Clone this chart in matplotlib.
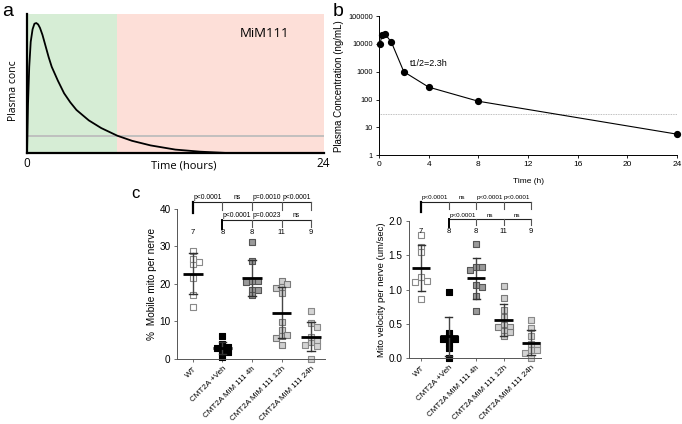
import numpy as np
import matplotlib
matplotlib.use("Agg")
import matplotlib.pyplot as plt
from matplotlib.ticker import NullFormatter, LogLocator

plt.rcParams['font.family'] = ['Liberation Sans', 'DejaVu Sans']

# ---------------- data ----------------
# panel a: schematic PK curve, y as fraction of axis height
a_time = [0, 0.08, 0.18, 0.3, 0.45, 0.6, 0.75, 0.9, 1.05, 1.25, 1.5, 1.75, 2.0, 2.5,
          3.0, 3.5, 4.0, 5.0, 6.0, 7.3, 8.5, 10, 12, 14, 16.3]
a_conc = [0, 0.35, 0.62, 0.80, 0.89, 0.93, 0.935, 0.925, 0.90, 0.85, 0.77, 0.69, 0.62, 0.52,
          0.43, 0.365, 0.31, 0.235, 0.18, 0.125, 0.088, 0.055, 0.025, 0.01, 0.0]
a_threshold = 0.12
a_green_end = 7.3
a_xticks = [0, 24]

# panel b: measured PK
b_time = [0.083, 0.25, 0.5, 1, 2, 4, 8, 24]
b_conc = [10000, 21500, 22500, 11500, 1000, 280, 87, 5.7]
b_threshold = 30
b_xticks = [0, 4, 8, 12, 16, 20, 24]
b_yticks = [1, 10, 100, 1000, 10000, 100000]
b_yticklabels = ['1', '10', '100', '1000', '10000', '100000']

# panel c
groups = ['WT', 'CMT2A +Veh', 'CMT2A MiM 111 4h', 'CMT2A MiM 111 12h', 'CMT2A MiM 111 24h']
n_labels = ['7', '8', '8', '11', '9']

mobile_wt = [28.7, 25.8, 25.4, 26.7, 21.5, 17.1, 13.8]
mobile_veh = [6.1, 4.0, 3.1, 2.9, 2.9, 2.0, 1.8, 0.5]
mobile_4h = [31.2, 26.1, 20.7, 20.5, 20.7, 18.4, 18.3, 17.0]
mobile_12h = [20.9, 19.1, 20.0, 19.0, 17.6, 9.8, 7.6, 6.2, 5.6, 6.5, 3.6]
mobile_24h = [12.9, 9.6, 8.6, 4.7, 3.8, 4.5, 5.8, 3.5, 0.0]

vel_wt = [1.79, 1.62, 1.55, 1.13, 1.18, 1.11, 0.86]
vel_veh = [0.97, 0.37, 0.28, 0.30, 0.22, 0.27, 0.14, 0.0]
vel_4h = [1.66, 1.33, 1.33, 1.29, 1.04, 1.07, 0.91, 0.68]
vel_12h = [1.05, 0.88, 0.70, 0.60, 0.48, 0.45, 0.41, 0.40, 0.38, 0.32, 0.45]
vel_24h = [0.56, 0.44, 0.32, 0.21, 0.19, 0.11, 0.11, 0.07, 0.0]

mobile_row1 = ['p<0.0001', 'ns', 'p=0.0010', 'p<0.0001']
mobile_row2 = ['p<0.0001', 'p=0.0023', 'ns']
vel_row1 = ['p<0.0001', 'ns', 'p<0.0001', 'p<0.0001']
vel_row2 = ['p<0.0001', 'ns', 'ns']

# styles
face_cols = ['white', 'black', '#9a9a9a', '#cfcfcf', '#d4d4d4']
edge_cols = ['#8a8a8a', 'black', '#555555', '#7a7a7a', '#8a8a8a']

fig = plt.figure(figsize=(6.82, 4.24), dpi=100)

# ---------------- panel a ----------------
axa = fig.add_axes([0.0396, 0.639, 0.435, 0.328])
axa.axvspan(0, a_green_end, color='#d6edd5', lw=0, zorder=0)
axa.axvspan(a_green_end, 24, color='#fddfd8', lw=0, zorder=0)
axa.axhline(a_threshold, color='#bdbdbd', lw=1.3, zorder=1)
axa.plot(a_time, a_conc, color='black', lw=1.3, zorder=2)
axa.set_xlim(0, 24)
axa.set_ylim(0, 1)
for s in ['top', 'right']:
    axa.spines[s].set_visible(False)
for s in ['left', 'bottom']:
    axa.spines[s].set_linewidth(1.6)
axa.set_xticks(a_xticks)
axa.set_xticklabels([str(v) for v in a_xticks], fontsize=8.5, family=['Open Sans', 'DejaVu Sans'])
axa.tick_params(axis='x', length=0, pad=3)
axa.set_yticks([])
axa.text(0.53, -0.095, 'Time (hours)', transform=axa.transAxes, ha='center', va='center',
         fontsize=8, family=['Open Sans', 'DejaVu Sans'])
axa.text(-0.045, 0.45, 'Plasma conc', transform=axa.transAxes, ha='center', va='center',
         rotation=90, fontsize=7.5, family=['Open Sans', 'DejaVu Sans'])
axa.text(19.2, 0.86, 'MiM111', ha='center', va='center', fontsize=9.5,
         family=['Open Sans', 'DejaVu Sans'])

# ---------------- panel b ----------------
axb = fig.add_axes([0.5557, 0.634, 0.437, 0.328])
axb.set_yscale('log')
axb.axhline(b_threshold, color='#aaaaaa', lw=0.6, ls=(0, (1, 1)), zorder=1)
axb.plot(b_time, b_conc, color='black', lw=0.8, marker='o', ms=4.2, clip_on=False, zorder=3)
axb.set_xlim(0, 24)
axb.set_ylim(1, 100000)
for s in ['top', 'right']:
    axb.spines[s].set_visible(False)
for s in ['left', 'bottom']:
    axb.spines[s].set_linewidth(0.7)
axb.set_xticks(b_xticks)
axb.set_xticklabels([str(v) for v in b_xticks], fontsize=6)
axb.set_yticks(b_yticks)
axb.set_yticklabels(b_yticklabels, fontsize=5.3)
axb.yaxis.set_minor_locator(LogLocator(base=10, subs=np.arange(2, 10)))
axb.yaxis.set_minor_formatter(NullFormatter())
axb.tick_params(axis='both', which='major', length=2.5, width=0.6, pad=2)
axb.tick_params(axis='y', which='minor', length=1.2, width=0.4)
axb.set_xlabel('Time (h)', fontsize=6, labelpad=7)
axb.set_ylabel('Plasma Concentration (ng/mL)', fontsize=7, labelpad=3)
axb.text(2.5, 2000, 't1/2=2.3h', fontsize=6.5, ha='left', va='center')

# ---------------- panel c helpers ----------------
def swarm_offsets(vals, dx, dy):
    placed = []
    offs = [0.0] * len(vals)
    order = sorted(range(len(vals)), key=lambda i: -vals[i])
    cand = [0, 1, -1, 0.5, -0.5, 1.5, -1.5]
    for i in order:
        v = vals[i]
        chosen = 0.0
        for k in cand:
            x = k * dx
            ok = all(not (abs(px - x) < dx * 0.9 and abs(pv - v) < dy) for px, pv in placed)
            if ok:
                chosen = x
                break
        offs[i] = chosen
        placed.append((chosen, v))
    return offs


def dot_panel(ax, data, dx, dy, ms):
    for gi, vals in enumerate(data):
        offs = swarm_offsets(vals, dx, dy)
        xs = [gi + o for o in offs]
        ax.scatter(xs, vals, marker='s', s=ms, facecolor=face_cols[gi], edgecolor=edge_cols[gi],
                   linewidths=0.8, zorder=2, clip_on=False)
        m = np.mean(vals)
        sd = np.std(vals, ddof=1)
        ax.plot([gi, gi], [m - sd, m + sd], color='#454545', lw=1.0, zorder=3)
        ax.plot([gi - 0.13, gi + 0.13], [m + sd, m + sd], color='#303030', lw=1.0, zorder=3)
        ax.plot([gi - 0.13, gi + 0.13], [m - sd, m - sd], color='#303030', lw=1.0, zorder=3)
        ax.plot([gi - 0.33, gi + 0.33], [m, m], color='black', lw=2.0, zorder=4,
                solid_capstyle='butt')


def brackets(ax, y1, d1, t1, y2, d2, t2, yn, row1, row2, fs):
    kw = dict(clip_on=False, zorder=5)
    ax.plot([0, 4], [y1, y1], color='#222222', lw=0.8, **kw)
    ax.plot([0, 0], [y1, y1 - d1 * 1.3], color='black', lw=1.6, **kw)
    for x in [1, 2, 3, 4]:
        ax.plot([x, x], [y1, y1 - d1], color='#555555', lw=0.8, **kw)
    for i, t in enumerate(row1):
        ax.text(i + 0.5, t1, t, ha='center', va='bottom', fontsize=fs, clip_on=False)
    ax.plot([1, 4], [y2, y2], color='#222222', lw=0.8, **kw)
    ax.plot([1, 1], [y2, y2 - d2 * 1.3], color='black', lw=1.4, **kw)
    for x in [2, 3, 4]:
        ax.plot([x, x], [y2, y2 - d2], color='#555555', lw=0.8, **kw)
    for i, t in enumerate(row2):
        ax.text(i + 1.5, t2, t, ha='center', va='bottom', fontsize=fs, clip_on=False)
    for i, t in enumerate(n_labels):
        ax.text(i, yn, t, ha='center', va='center', fontsize=5.5, clip_on=False)


def style_c(ax):
    for s in ['top', 'right']:
        ax.spines[s].set_visible(False)
    for s in ['left', 'bottom']:
        ax.spines[s].set_linewidth(0.7)
        ax.spines[s].set_color('#555555')
    ax.set_xticks(range(len(groups)))
    ax.set_xticklabels(groups, rotation=45, ha='right', rotation_mode='anchor', fontsize=5.8)
    ax.tick_params(axis='both', length=2.5, width=0.6, pad=2, color='#555555')

# ---------------- panel c left ----------------
axc1 = fig.add_axes([0.2595, 0.1533, 0.217, 0.354])
dot_panel(axc1, [mobile_wt, mobile_veh, mobile_4h, mobile_12h, mobile_24h], 0.2, 1.2, 15)
axc1.set_xlim(-0.54, 4.47)
axc1.set_ylim(0, 40)
axc1.set_yticks([0, 10, 20, 30, 40])
axc1.tick_params(axis='y', labelsize=7.2)
style_c(axc1)
axc1.set_ylabel('%  Mobile mito per nerve', fontsize=7.3, labelpad=2)
brackets(axc1, 41.9, 2.2, 42.2, 37.1, 1.8, 37.4, 33.6, mobile_row1, mobile_row2, 4.9)

# ---------------- panel c right ----------------
axc2 = fig.add_axes([0.5997, 0.1557, 0.1935, 0.323])
dot_panel(axc2, [vel_wt, vel_veh, vel_4h, vel_12h, vel_24h], 0.22, 0.07, 15)
axc2.set_xlim(-0.44, 4.36)
axc2.set_ylim(0, 2.0)
axc2.set_yticks([0.0, 0.5, 1.0, 1.5, 2.0])
axc2.set_yticklabels(['0.0', '0.5', '1.0', '1.5', '2.0'])
axc2.tick_params(axis='y', labelsize=7.2)
style_c(axc2)
axc2.set_ylabel('Mito velocity per nerve (um/sec)', fontsize=6.8, labelpad=2)
brackets(axc2, 2.28, 0.11, 2.30, 2.03, 0.09, 2.05, 1.84, vel_row1, vel_row2, 4.5)

# panel letters
fig.text(0.003, 1 - 11 / 424, 'a', fontsize=14, va='center', ha='left')
fig.text(333 / 682, 1 - 11 / 424, 'b', fontsize=14, va='center', ha='left')
fig.text(131 / 682, 1 - 193 / 424, 'c', fontsize=12, va='center', ha='left')

fig.savefig('out.png', dpi=100)
